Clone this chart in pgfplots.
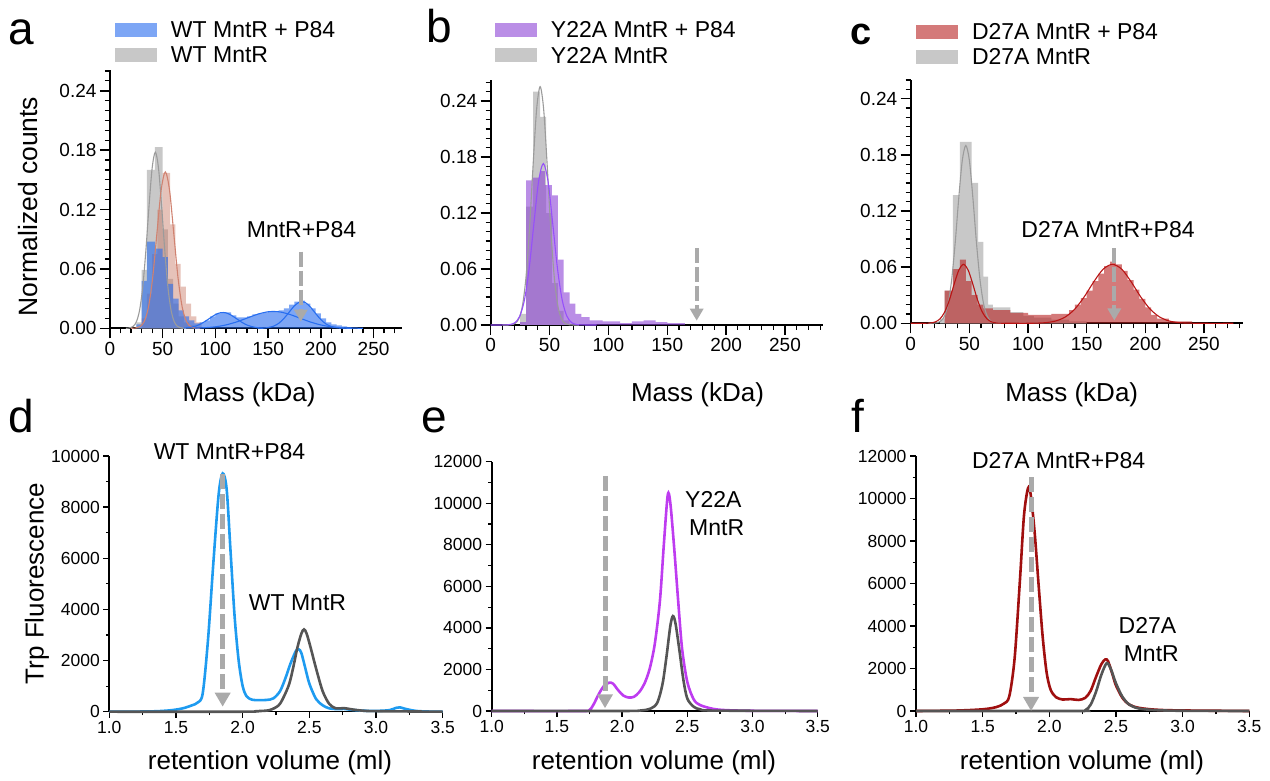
\documentclass[border=0pt]{standalone}
\usepackage{fontspec}
\setmainfont{Liberation Sans}
\usepackage{pgfplots}
\pgfplotsset{compat=1.18}
\usetikzlibrary{arrows.meta}

\definecolor{blueB}{RGB}{38,107,238}
\definecolor{grayB}{RGB}{200,200,200}
\definecolor{pinkB}{RGB}{200,120,100}
\definecolor{purpB}{RGB}{140,67,213}
\definecolor{redB}{RGB}{183,33,33}
\definecolor{grayC}{RGB}{155,155,155}
\definecolor{pinkC}{RGB}{208,130,112}
\definecolor{blueC}{RGB}{40,110,240}
\definecolor{purpC}{RGB}{150,80,250}
\definecolor{redC}{RGB}{185,20,20}
\definecolor{lineBlue}{RGB}{30,155,240}
\definecolor{lineGray}{RGB}{85,85,85}
\definecolor{lineMag}{RGB}{190,60,240}
\definecolor{lineRed}{RGB}{160,15,15}
\definecolor{arrowGray}{RGB}{170,170,170}

\newcommand{\fs}[1]{\fontsize{#1}{#1}\selectfont}

\tikzset{
  arrtop/.style={arrowGray, line width=4.3pt, dash pattern=on 15pt off 4pt, -{Triangle[width=13pt,length=12pt]}},
  arrbot/.style={arrowGray, line width=5pt, dash pattern=on 15pt off 5pt, -{Triangle[width=15pt,length=14pt]}},
}

\pgfplotsset{
  base/.style={scale only axis, axis lines*=left, tick align=outside, clip=false,
    anchor=south west,
    /pgf/number format/assume math mode=true,
    legend image code/.code={\fill[##1] (0pt,-7pt) rectangle (42pt,7pt);},
  },
  hist/.style={base, xmin=0, ymin=0,
    axis line style={line width=1.8pt},
    major tick style={line width=1.5pt, black}, minor tick style={line width=1.2pt, black},
    major tick length=10pt, minor tick length=5pt,
    xtick={0,50,100,150,200,250}, minor xtick={0,10,...,280},
    ytick={0,0.06,0.12,0.18,0.24}, minor ytick={0,0.01,...,0.26},
    scaled y ticks=false,
    yticklabel style={/pgf/number format/fixed, /pgf/number format/fixed zerofill, /pgf/number format/precision=2},
    ticklabel style={font=\fs{19}},
    legend style={draw=none, fill=none, anchor=north west, inner sep=0pt, outer sep=0pt,
      nodes={inner sep=0pt, text depth=0pt}, row sep=9pt,
      font=\fs{23},
      /tikz/every odd column/.append style={column sep=14pt}},
    legend cell align=left,
  },
  fitline/.style={line width=1.1pt, smooth, forget plot},
  bars/.style={const plot, draw=none, forget plot},
  sec/.style={base, xmin=1, xmax=3.5, ymin=0,
    axis line style={line width=1.6pt},
    major tick style={line width=1.4pt, black}, minor tick style={line width=1.2pt, black},
    major tick length=6pt, minor tick length=3.5pt,
    xtick={1,1.5,...,3.5}, minor xtick={1.25,1.75,...,3.25},
    scaled y ticks=false,
    xticklabel style={/pgf/number format/fixed, /pgf/number format/fixed zerofill, /pgf/number format/precision=1},
    yticklabel style={/pgf/number format/1000 sep={}},
    ticklabel style={font=\fs{17.5}},
  },
  trace/.style={line width=2.6pt, smooth, tension=0.5},
}

\begin{document}
\begin{tikzpicture}
\path[use as bounding box] (0pt,0pt) rectangle (1270pt,781pt);

% ---------- a ----------
\begin{axis}[hist, at={(110pt,452.7pt)}, width=292pt, height=258.3pt, xmax=277, ymax=0.261,
  legend style={at={(0.0171,1.1874)}}]
\addlegendimage{fill=blueB, fill opacity=0.6, draw=none}
\addlegendentry{WT MntR + P84}
\addlegendimage{fill=grayB, draw=none}
\addlegendentry{WT MntR}
\addplot[bars, fill=grayB] coordinates {(25,0.006)(30,0.059)(35,0.16)(42.5,0.183)(50,0.1)(55,0.05)(60,0.025)(65,0.012)(70,0.006)(75,0.003)(80,0)} \closedcycle;
\addplot[bars, fill=pinkB, fill opacity=0.45] coordinates {(30,0.01)(35,0.035)(40,0.075)(45,0.12)(50,0.157)(57,0.105)(62,0.065)(67,0.042)(72,0.025)(77,0.012)(82,0.006)(87,0)} \closedcycle;
\addplot[bars, fill=blueB, fill opacity=0.6] coordinates {(25,0.004)(30,0.048)(35,0.0875)(42.5,0.0805)(50,0.072)(55,0.045)(60,0.03)(65,0.018)(70,0.012)(75,0.008)(80,0.005)(85,0.006)(90,0.008)(95,0.012)(100,0.015)(105,0.016)(110,0.016)(115,0.013)(120,0.011)(125,0.011)(130,0.012)(135,0.014)(140,0.015)(145,0.016)(150,0.017)(155,0.017)(160,0.018)(165,0.02)(170,0.024)(175,0.027)(180,0.028)(185,0.025)(190,0.02)(195,0.015)(200,0.01)(205,0.006)(210,0.004)(215,0.003)(220,0.002)(225,0.001)(235,0)} \closedcycle;
\addplot[fitline, grayC] coordinates {(15,0)(18,0.0003)(22,0.002)(25,0.0065)(28,0.0179)(31,0.041)(34,0.078)(37,0.123)(40,0.162)(43,0.178)(46,0.162)(49,0.123)(52,0.078)(55,0.041)(58,0.0179)(61,0.0065)(64,0.002)(68,0.0003)(72,0)};
\addplot[fitline, pinkC] coordinates {(20,0)(24.5,0.0003)(28.5,0.0018)(32.5,0.0069)(36.5,0.0214)(40.5,0.0513)(44.5,0.0958)(48.5,0.1394)(52.5,0.158)(56.5,0.1394)(60.5,0.0958)(64.5,0.0513)(68.5,0.0214)(72.5,0.0069)(76.5,0.0018)(80.5,0.0003)(85,0)};
\addplot[fitline, blueC] coordinates {(70,0.0003)(75,0.0008)(80,0.0018)(85,0.0038)(90,0.0068)(95,0.0104)(100,0.0138)(105,0.0158)(110,0.0156)(115,0.0132)(120,0.0097)(125,0.0061)(130,0.0033)(135,0.0016)(140,0.0006)(145,0.0002)};
\addplot[fitline, blueC] coordinates {(80,0.0002)(90,0.0006)(100,0.0015)(110,0.0034)(120,0.0064)(130,0.0103)(140,0.0142)(150,0.0167)(160,0.0167)(170,0.0142)(180,0.0103)(190,0.0064)(200,0.0034)(210,0.0015)(220,0.0006)(230,0.0002)(240,0)};
\addplot[fitline, blueC] coordinates {(140,0.0001)(145,0.0002)(150,0.0008)(155,0.0021)(160,0.005)(165,0.0099)(170,0.0164)(175,0.0228)(180,0.0266)(185,0.0262)(190,0.0216)(195,0.015)(200,0.0088)(205,0.0043)(210,0.0018)(215,0.0006)(220,0.0002)(230,0)};
\draw[arrtop] (axis cs:181,0.0774) -- (axis cs:181,0.0067);
\end{axis}

% ---------- b ----------
\begin{axis}[hist, at={(490.7pt,456pt)}, width=332.3pt, height=245pt, xmax=282.3, ymax=0.2626,
  legend style={at={(0.0129,1.2371)}}]
\addlegendimage{fill=purpB, fill opacity=0.6, draw=none}
\addlegendentry{Y22A MntR + P84}
\addlegendimage{fill=grayB, draw=none}
\addlegendentry{Y22A MntR}
\addplot[bars, fill=grayB] coordinates {(25,0.012)(30,0.127)(36,0.25)(42,0.223)(47,0.12)(52,0.045)(57,0.015)(62,0.005)(67,0)} \closedcycle;
\addplot[bars, fill=purpB, fill opacity=0.6] coordinates {(25,0.003)(30,0.155)(36,0.158)(42,0.165)(46,0.15)(52,0.139)(57,0.07)(62,0.035)(67,0.023)(72,0.012)(77,0.0085)(84,0.005)(95,0.004)(110,0.002)(120,0.004)(130,0.005)(140,0.003)(150,0.002)(165,0)} \closedcycle;
\addplot[fitline, grayC] coordinates {(10,0)(17,0.0002)(21,0.0019)(24,0.0069)(27,0.0208)(30,0.0514)(33,0.1037)(36,0.171)(39,0.231)(42,0.2555)(45,0.231)(48,0.171)(51,0.1037)(54,0.0514)(57,0.0208)(60,0.0069)(63,0.0019)(67,0.0002)(75,0)};
\addplot[fitline, purpC] coordinates {(0,0)(12.7,0.0001)(16.7,0.0006)(20.7,0.0026)(24.7,0.0095)(28.7,0.027)(32.7,0.0608)(36.7,0.1087)(40.7,0.154)(44.7,0.173)(48.7,0.154)(52.7,0.1087)(56.7,0.0608)(60.7,0.027)(64.7,0.0095)(68.7,0.0026)(72.7,0.0006)(76.7,0.0001)(90,0)};
\draw[arrtop] (axis cs:175,0.082) -- (axis cs:175,0.0046);
\end{axis}

% ---------- c ----------
\begin{axis}[hist, at={(910.7pt,457.7pt)}, width=332.3pt, height=243.3pt, xmax=283.3, ymax=0.26,
  legend style={at={(0.016,1.2318)}}]
\addlegendimage{fill=redB, fill opacity=0.6, draw=none}
\addlegendentry{D27A MntR + P84}
\addlegendimage{fill=grayB, draw=none}
\addlegendentry{D27A MntR}
\addplot[bars, fill=grayB] coordinates {(25,0.005)(29,0.035)(36,0.137)(42,0.194)(52,0.15)(57.5,0.087)(62,0.05)(66,0.02)(70,0.017)(85,0.012)(96,0.008)(105,0.006)(120,0.004)(135,0.002)(150,0)} \closedcycle;
\addplot[bars, fill=redB, fill opacity=0.6] coordinates {(29,0.035)(36,0.058)(42,0.068)(47,0.045)(52,0.03)(57,0.02)(62,0.016)(70,0.014)(85,0.011)(100,0.009)(120,0.01)(135,0.014)(140,0.02)(145,0.027)(150,0.035)(155,0.045)(160,0.053)(165,0.061)(170,0.066)(175,0.063)(180,0.056)(185,0.046)(190,0.036)(195,0.026)(200,0.017)(205,0.009)(210,0.005)(220,0.002)(240,0)} \closedcycle;
\addplot[fitline, grayC] coordinates {(15,0)(22,0.0005)(26,0.0027)(29,0.0083)(32,0.0217)(35,0.0474)(38,0.087)(41,0.1343)(44,0.1742)(47,0.19)(50,0.1742)(53,0.1343)(56,0.087)(59,0.0474)(62,0.0217)(65,0.0083)(68,0.0027)(72,0.0005)(80,0)};
\addplot[fitline, redC] coordinates {(0,0)(10,0)(13,0.0001)(17,0.0004)(21,0.0015)(25,0.0048)(29,0.0121)(33,0.0249)(37,0.0417)(41,0.0568)(45,0.063)(49,0.0568)(53,0.0417)(57,0.0249)(61,0.0121)(65,0.0048)(69,0.0015)(73,0.0004)(77,0.0001)(90,0)(100,0)(108,0.0002)(116,0.0008)(124,0.0026)(132,0.0069)(140,0.0153)(148,0.0284)(156,0.0442)(164,0.0577)(172,0.063)(180,0.0577)(188,0.0442)(196,0.0284)(204,0.0153)(212,0.0069)(220,0.0026)(228,0.0008)(236,0.0002)(250,0)(275,0)};
\draw[arrtop] (axis cs:173.6,0.080) -- (axis cs:173.6,0.003);
\end{axis}

% ---------- d ----------
\begin{axis}[sec, at={(109.3pt,69.3pt)}, width=333.4pt, height=255.7pt, ymax=10000,
  ytick={0,2000,...,10000}, minor ytick={1000,3000,...,9000}]
\addplot[trace, lineBlue] coordinates {(1.0,0)(1.3,10)(1.45,50)(1.55,130)(1.62,250)(1.66,350)(1.70,700)(1.74,2800)(1.78,5800)(1.82,8500)(1.85,9320)(1.88,8700)(1.91,6200)(1.94,3700)(1.97,2000)(2.00,1000)(2.03,600)(2.07,470)(2.12,450)(2.18,460)(2.23,520)(2.28,800)(2.32,1300)(2.36,1900)(2.40,2380)(2.42,2440)(2.44,2300)(2.47,1700)(2.50,1100)(2.55,500)(2.60,250)(2.65,130)(2.72,100)(2.76,110)(2.82,70)(2.9,40)(3.0,30)(3.1,60)(3.15,150)(3.18,170)(3.22,110)(3.3,30)(3.4,5)(3.5,0)};
\addplot[trace, lineGray] coordinates {(1.0,0)(2.0,0)(2.1,20)(2.2,60)(2.27,250)(2.31,600)(2.35,1100)(2.38,1750)(2.41,2500)(2.44,3050)(2.46,3220)(2.48,3050)(2.51,2500)(2.55,1700)(2.60,800)(2.65,300)(2.70,130)(2.76,140)(2.82,90)(2.9,40)(3.0,20)(3.5,0)};
\draw[arrbot] (axis cs:1.85,9290) -- (axis cs:1.85,195);
\end{axis}

% ---------- e ----------
\begin{axis}[sec, at={(491.7pt,70pt)}, width=326pt, height=249.3pt, ymax=12000,
  ytick={0,2000,...,12000}, minor ytick={1000,3000,...,11000}]
\addplot[trace, lineMag] coordinates {(1.0,0)(1.70,0)(1.75,50)(1.78,300)(1.82,800)(1.86,1200)(1.90,1360)(1.93,1320)(1.97,1000)(2.01,740)(2.05,650)(2.09,680)(2.13,900)(2.17,1300)(2.21,2000)(2.25,3200)(2.29,5300)(2.32,8000)(2.35,10400)(2.37,10000)(2.40,7800)(2.43,5300)(2.46,3000)(2.50,1400)(2.55,550)(2.60,280)(2.70,100)(2.80,40)(3.0,10)(3.5,0)};
\addplot[trace, lineGray] coordinates {(1.0,0)(2.0,0)(2.15,30)(2.22,120)(2.27,400)(2.31,1300)(2.34,2600)(2.37,4100)(2.39,4570)(2.41,4200)(2.44,2900)(2.47,1500)(2.50,600)(2.55,200)(2.60,80)(2.70,20)(3.5,0)};
\draw[arrbot] (axis cs:1.869,11312) -- (axis cs:1.869,130);
\end{axis}

% ---------- f ----------
\begin{axis}[sec, at={(916pt,70pt)}, width=333.3pt, height=255pt, ymax=12000,
  ytick={0,2000,...,12000}, minor ytick={1000,3000,...,11000}]
\addplot[trace, lineRed] coordinates {(1.0,0)(1.3,20)(1.5,80)(1.6,180)(1.66,350)(1.70,700)(1.74,2500)(1.78,6200)(1.81,9200)(1.84,10480)(1.86,10200)(1.89,8400)(1.92,5900)(1.95,3500)(1.98,1800)(2.01,1000)(2.05,650)(2.10,540)(2.16,560)(2.22,520)(2.27,620)(2.31,950)(2.35,1600)(2.39,2200)(2.42,2430)(2.44,2350)(2.47,1800)(2.50,1200)(2.55,600)(2.60,300)(2.67,150)(2.8,60)(3.0,25)(3.5,0)};
\addplot[trace, lineGray] coordinates {(1.0,0)(2.2,0)(2.27,40)(2.31,300)(2.35,900)(2.39,1700)(2.43,2250)(2.46,2000)(2.50,1300)(2.55,650)(2.60,300)(2.67,120)(2.8,40)(3.0,10)(3.5,0)};
\draw[arrbot] (axis cs:1.863,11000) -- (axis cs:1.863,0);
\end{axis}

% ---------- text (pixel coordinates from the top left) ----------
\begin{scope}[shift={(0pt,781pt)}, x=1pt, y=-1pt, every node/.style={inner sep=0pt}]
\node[anchor=base west, font=\fs{46}] at (8,45) {a};
\node[anchor=base west, font=\fs{46}] at (426,43) {b};
\node[anchor=base west, font=\fs{38}\bfseries] at (850,45) {c};
\node[anchor=base west, font=\fs{46}] at (8,433) {d};
\node[anchor=base west, font=\fs{46}] at (421,433) {e};
\node[anchor=base west, font=\fs{46}] at (851,433) {f};

\node[rotate=90, anchor=base, font=\fs{26.5}] at (38,206.5) {Normalized counts};
\node[rotate=90, anchor=base, font=\fs{26}] at (43.6,583.5) {Trp Fluorescence};
\node[anchor=base, font=\fs{26}] at (249,401.7) {Mass (kDa)};
\node[anchor=base, font=\fs{26}] at (697.5,401.7) {Mass (kDa)};
\node[anchor=base, font=\fs{26}] at (1071.7,401.7) {Mass (kDa)};
\node[anchor=base, font=\fs{26}] at (270,770) {retention volume (ml)};
\node[anchor=base, font=\fs{26}] at (654,770) {retention volume (ml)};
\node[anchor=base, font=\fs{26}] at (1082,770) {retention volume (ml)};

\node[anchor=base, font=\fs{23}] at (301.5,237.3) {MntR+P84};
\node[anchor=base, font=\fs{23}] at (1108,237.3) {D27A MntR+P84};
\node[anchor=base, font=\fs{23}] at (229.5,459.3) {WT MntR+P84};
\node[anchor=base, font=\fs{23}] at (297.5,610.7) {WT MntR};
\node[anchor=base, font=\fs{23}] at (713.3,507.3) {Y22A};
\node[anchor=base, font=\fs{23}] at (716.7,536) {MntR};
\node[anchor=base, font=\fs{23}] at (1058.7,468.3) {D27A MntR+P84};
\node[anchor=base, font=\fs{23}] at (1147.5,633.3) {D27A};
\node[anchor=base, font=\fs{23}] at (1151.3,661.7) {MntR};
\end{scope}
\end{tikzpicture}
\end{document}
